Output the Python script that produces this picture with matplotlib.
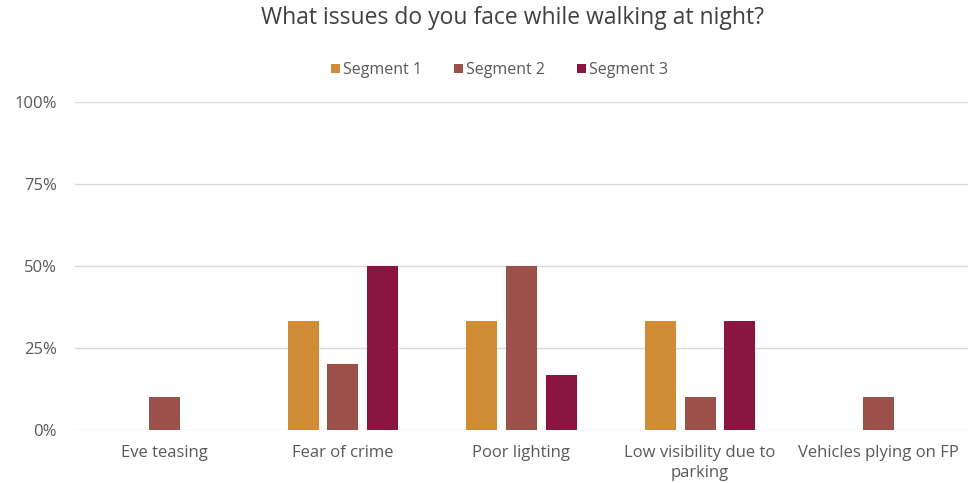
import matplotlib
matplotlib.use("Agg")
import matplotlib.pyplot as plt
import numpy as np
from matplotlib.ticker import FuncFormatter

categories = ["Eve teasing", "Fear of crime", "Poor lighting", "Low visibility due to\nparking", "Vehicles plying on FP"]
series_names = ["Segment 1", "Segment 2", "Segment 3"]
seg1 = [0, 33.3, 33.3, 33.3, 0]
seg2 = [10, 20, 50, 10, 10]
seg3 = [0, 50, 16.7, 33.3, 0]
colors = ["#D08C35", "#9B504A", "#8A1541"]
yticks = [0, 25, 50, 75, 100]

plt.rcParams['font.family'] = ['Open Sans', 'DejaVu Sans']
fig = plt.figure(figsize=(9.76, 4.83), dpi=100)
ax = fig.add_axes([75/976, 1-430/483, (968-75)/976, (430-102)/483])

x = np.arange(len(categories))
w = 0.174
step = 0.222
for i, (vals, name, c) in enumerate(zip([seg1, seg2, seg3], series_names, colors)):
    ax.bar(x + (i-1)*step, vals, width=w, color=c, label=name, zorder=3)

ax.set_xlim(-0.5, len(categories)-0.5)
ax.set_ylim(0, 100)
ax.set_yticks(yticks)
ax.yaxis.set_major_formatter(FuncFormatter(lambda v, p: f"{int(v)}%"))
ax.grid(axis='y', color='#D9D9D9', linewidth=1, zorder=0)
for s in ax.spines.values():
    s.set_visible(False)
ax.tick_params(axis='both', length=0, colors='#595959')
ax.tick_params(axis='y', pad=13, labelsize=12)
ax.tick_params(axis='x', pad=11)
ax.set_xticks(x)
ax.set_xticklabels(categories, fontsize=12, color='#595959', linespacing=1.3)

fig.text(0.525, 0.962, "What issues do you face while walking at night?", ha='center', va='center',
         fontsize=16.5, color='#404040')
fig.legend(loc='center', bbox_to_anchor=(0.512, 0.855), ncol=3, frameon=False,
           handlelength=0.55, handleheight=0.55, handletextpad=0.2, columnspacing=2.0,
           fontsize=11.5, labelcolor='#595959')

fig.savefig("out.png", dpi=100, facecolor='white')
